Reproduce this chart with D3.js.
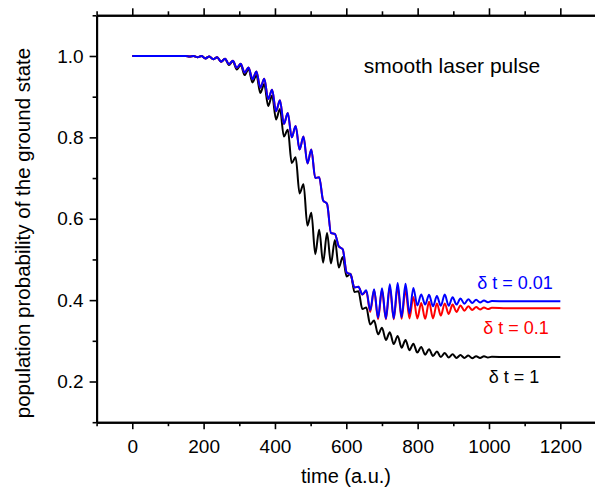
<!DOCTYPE html>
<html><head><meta charset="utf-8">
<script src="https://cdn.jsdelivr.net/npm/d3@7"></script>
<style>
body{margin:0;background:#fff;}
svg{display:block;font-family:"Liberation Sans",Arial,sans-serif;}
</style></head>
<body><svg id="c" width="595" height="489"></svg>
<script>
// time in a.u.
const time = [0,50,100,130,150,161,172,183,194,205,216,227,238,249,260,271,282,293,304,315,326,337,348,359,370,381,392,403,414,425,436,447,458,469,480,491,502,513,524,535,546,557,568,579,590,601,612,623,634,645,656,667,678,689,700,711,722,733,744,755,766,777,788,799,810,821,832,843,854,865,876,887,898,909,920,931,942,953,964,975,986,997,1008,1050,1100,1150,1200];
// delta t = 0.01 (blue)
const probDt001 = [1,1,1,1,
1.000,0.999,1.000,0.997,1.000,0.994,0.999,0.992,0.997,0.986,
0.993,0.980,0.988,0.971,0.981,0.959,0.972,0.943,0.962,0.922,
0.944,0.894,0.917,0.864,0.891,0.833,0.860,0.800,0.828,0.770,
0.802,0.736,0.770,0.700,0.702,0.645,0.637,0.565,0.563,0.532,
0.525,0.468,0.463,0.431,0.433,0.414,0.424,0.375,0.427,0.357,
0.429,0.355,0.439,0.355,0.442,0.358,0.440,0.367,0.430,0.387,
0.414,0.389,0.413,0.385,0.410,0.386,0.414,0.386,0.407,0.389,
0.404,0.391,0.402,0.393,0.401,0.394,0.399,0.395,0.398,
0.397,0.397,0.397,0.397];
// delta t = 0.1 (red)
const probDt01 = [1,1,1,1,
1.000,0.999,1.000,0.997,1.000,0.994,0.999,0.992,0.997,0.986,
0.993,0.980,0.988,0.971,0.981,0.959,0.972,0.943,0.962,0.922,
0.944,0.894,0.917,0.864,0.891,0.833,0.860,0.800,0.828,0.770,
0.802,0.736,0.770,0.700,0.702,0.645,0.637,0.565,0.563,0.532,
0.525,0.468,0.463,0.431,0.433,0.414,0.422,0.371,0.425,0.353,
0.425,0.353,0.432,0.353,0.433,0.354,0.425,0.355,0.408,0.355,
0.393,0.354,0.396,0.355,0.392,0.362,0.392,0.366,0.389,0.371,
0.387,0.374,0.385,0.376,0.383,0.377,0.382,0.378,0.381,
0.380,0.380,0.380,0.380];
// delta t = 1 (black)
const probDt1 = [1,1,1,1,
1.000,0.999,1.000,0.997,1.000,0.994,0.999,0.992,0.997,0.986,
0.993,0.978,0.987,0.967,0.978,0.953,0.968,0.935,0.953,0.909,
0.931,0.877,0.903,0.844,0.870,0.802,0.819,0.737,0.751,0.662,
0.685,0.583,0.615,0.513,0.573,0.492,0.565,0.490,0.548,0.480,
0.506,0.458,0.465,0.420,0.422,0.378,0.382,0.340,0.350,0.316,
0.332,0.302,0.321,0.292,0.312,0.283,0.302,0.277,0.293,0.271,
0.285,0.266,0.279,0.263,0.274,0.260,0.270,0.259,0.267,0.258,
0.265,0.258,0.264,0.257,0.262,0.258,0.262,0.259,0.261,
0.260,0.260,0.260,0.260];

const seriesNames = ["\u03b4 t = 1","\u03b4 t = 0.1","\u03b4 t = 0.01"];
const seriesColors = ["#000000","#ff0000","#0000ff"];
const xMajor = [0,200,400,600,800,1000,1200];
const xMinor = [-100,100,300,500,700,900,1100,1300];
const yMajor = [0.2,0.4,0.6,0.8,1.0];
const yMinor = [0.1,0.3,0.5,0.7,0.9,1.1];

const svg = d3.select("#c");
const L=96.6, R=596, T=15.3, B=422.2;
const x = d3.scaleLinear().domain([-100,1300]).range([L,R]);
const y = d3.scaleLinear().domain([0.1,1.1]).range([B,T]);

const series = [probDt1, probDt01, probDt001];
const line = d3.line().x(d=>x(d[0])).y(d=>y(d[1])).curve(d3.curveMonotoneX);
series.forEach((s,i)=>{
  svg.append("path").datum(time.map((t,j)=>[t,s[j]]))
    .attr("d",line).attr("fill","none")
    .attr("stroke",seriesColors[i]).attr("stroke-width",2)
    .attr("stroke-linejoin","round");
});

function styleAxis(g){
  g.select(".domain").attr("stroke","#000").attr("stroke-width",2);
  g.selectAll(".tick line").attr("stroke","#000").attr("stroke-width",1.6);
  g.selectAll(".tick text").attr("fill","#000").attr("font-size",19)
    .attr("font-family","Liberation Sans, Arial, sans-serif");
}
// bottom
svg.append("g").attr("transform",`translate(0,${B})`)
  .call(d3.axisBottom(x).tickValues(xMinor).tickSize(4).tickFormat("").tickSizeOuter(0)).call(styleAxis);
svg.append("g").attr("transform",`translate(0,${B})`)
  .call(d3.axisBottom(x).tickValues(xMajor).tickSize(7).tickPadding(10).tickFormat(d3.format("d")).tickSizeOuter(0)).call(styleAxis);
// top
svg.append("g").attr("transform",`translate(0,${T})`)
  .call(d3.axisTop(x).tickValues(xMinor).tickSize(4).tickFormat("").tickSizeOuter(0)).call(styleAxis);
svg.append("g").attr("transform",`translate(0,${T})`)
  .call(d3.axisTop(x).tickValues(xMajor).tickSize(7).tickFormat("").tickSizeOuter(0)).call(styleAxis);
// left
svg.append("g").attr("transform",`translate(${L},0)`)
  .call(d3.axisLeft(y).tickValues(yMinor).tickSize(4).tickFormat("").tickSizeOuter(0)).call(styleAxis);
svg.append("g").attr("transform",`translate(${L},0)`)
  .call(d3.axisLeft(y).tickValues(yMajor).tickSize(7).tickPadding(6).tickFormat(d3.format(".1f")).tickSizeOuter(0)).call(styleAxis);
// right
svg.append("g").attr("transform",`translate(${R},0)`)
  .call(d3.axisRight(y).tickValues(yMajor).tickSize(7).tickFormat("").tickSizeOuter(0)).call(styleAxis);

// titles
svg.append("text").attr("x",346).attr("y",483).attr("text-anchor","middle")
  .attr("font-size",20).text("time (a.u.)");
svg.append("text").attr("transform","translate(30,233) rotate(-90)").attr("text-anchor","middle")
  .attr("font-size",20.5).text("population probability of the ground state");
svg.append("text").attr("x",452).attr("y",73).attr("text-anchor","middle")
  .attr("font-size",21).text("smooth laser pulse");

// series labels
const labelPos = [[514,383],[516,334],[515,289]];
seriesNames.forEach((n,i)=>{
  svg.append("text").attr("x",labelPos[i][0]).attr("y",labelPos[i][1])
    .attr("text-anchor","middle").attr("font-size",18)
    .attr("fill",seriesColors[i]).text(n);
});
</script></body></html>
